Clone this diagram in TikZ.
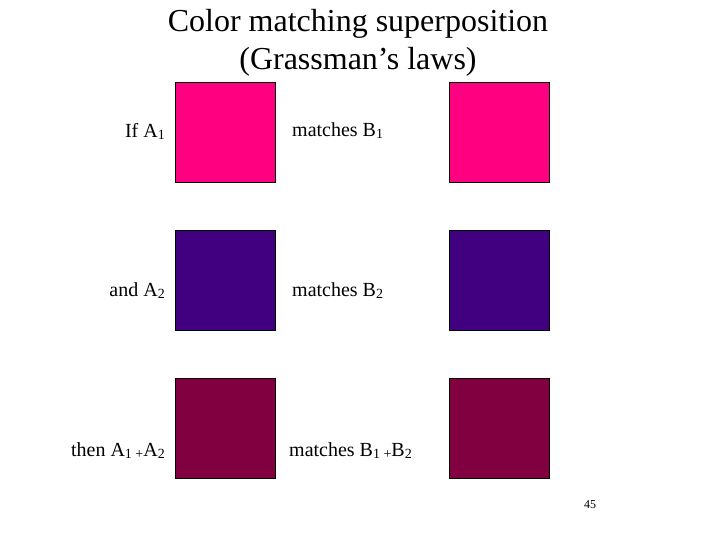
\documentclass[tikz,border=0pt]{standalone}
\usepackage{fontspec}
\setmainfont{Liberation Serif}
\definecolor{cpink}{HTML}{FF0080}
\definecolor{cpurple}{HTML}{400080}
\definecolor{cmaroon}{HTML}{800040}
\newcommand{\sbx}[1]{\raisebox{-2pt}{\fontsize{14}{14}\selectfont #1}}
\begin{document}
\begin{tikzpicture}[x=1pt,y=-1pt,
  sq/.style={draw=black,line width=0.5pt,minimum size=100pt,inner sep=0pt,anchor=north west},
  lbl/.style={font=\fontsize{20}{24}\selectfont,inner sep=0pt}]
\useasboundingbox (0,0) rectangle (720,540);
\node[font=\fontsize{32}{38}\selectfont,align=center,inner sep=0pt] (title) at (358,43) {Color matching superposition\\(Grassman’s laws)};
\node[sq,fill=cpink] (a1) at (175,82) {};
\node[sq,fill=cpink] (b1) at (449,82) {};
\node[sq,fill=cpurple] (a2) at (175,230) {};
\node[sq,fill=cpurple] (b2) at (449,230) {};
\node[sq,fill=cmaroon] (a3) at (175,378) {};
\node[sq,fill=cmaroon] (b3) at (449,378) {};
\node[lbl,anchor=east] (l1) at (165,131) {If A\sbx{1}};
\node[lbl,anchor=east] (l2) at (165,291) {and A\sbx{2}};
\node[lbl,anchor=east] (l3) at (165,451) {then A\sbx{1 +}A\sbx{2}};
\node[lbl,anchor=west] (m1) at (292,131) {matches B\sbx{1}};
\node[lbl,anchor=west] (m2) at (292,291) {matches B\sbx{2}};
\node[lbl,anchor=west] (m3) at (289,451) {matches B\sbx{1 +}B\sbx{2}};
\node[font=\fontsize{12}{14}\selectfont,inner sep=0pt] (pg) at (590,505) {45};
\end{tikzpicture}
\end{document}
